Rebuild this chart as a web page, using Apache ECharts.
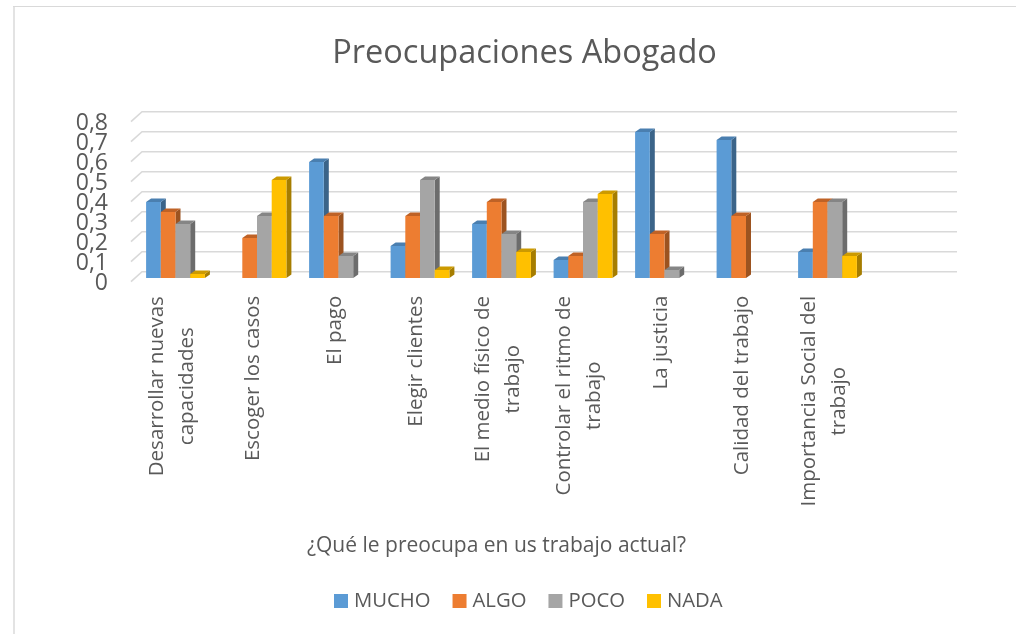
<!DOCTYPE html>
<html>
<head>
<meta charset="utf-8">
<title>Preocupaciones Abogado</title>
<style>
  html, body { margin: 0; padding: 0; background: #fff; }
  #main { width: 1016px; height: 634px; }
</style>
<script src="https://cdn.jsdelivr.net/npm/echarts@6/dist/echarts.min.js"></script>
</head>
<body>
<div id="main"></div>
<script>
var categories = [
  'Desarrollar nuevas\ncapacidades',
  'Escoger los casos',
  'El pago',
  'Elegir clientes',
  'El medio físico de\ntrabajo',
  'Controlar el ritmo de\ntrabajo',
  'La justicia',
  'Calidad del trabajo',
  'Importancia Social del\ntrabajo',
  ''
];
var mucho = [0.38, null, 0.58, 0.16, 0.27, 0.09, 0.73, 0.69, 0.13, null];
var algo = [0.33, 0.2, 0.31, 0.31, 0.38, 0.11, 0.22, 0.31, 0.38, null];
var poco = [0.27, 0.31, 0.11, 0.49, 0.22, 0.38, 0.04, null, 0.38, null];
var nada = [0.02, 0.49, null, 0.04, 0.13, 0.42, null, null, 0.11, null];
var yTicks = [0, 0.1, 0.2, 0.3, 0.4, 0.5, 0.6, 0.7, 0.8];
var yTickLabels = ['0', '0,1', '0,2', '0,3', '0,4', '0,5', '0,6', '0,7', '0,8'];

var seriesNames = ['MUCHO', 'ALGO', 'POCO', 'NADA'];
var seriesValues = [mucho, algo, poco, nada];
var frontColors = ['#5B9BD5', '#ED7D31', '#A5A5A5', '#FFC000'];
var topColors = ['#4A7FB0', '#BF6226', '#858585', '#CC9A00'];
var sideColors = ['#3B6489', '#9C5320', '#6C6C6C', '#A67D00'];

var fontName = '"Open Sans", sans-serif';
var textColor = '#595959';
var labelSize = 20.5;

// 3D look: how far the walls and the bars go back
var wallDx = 11, wallDy = -10;
var barDx = 5, barDy = -3.4;
var barInsetY = 3.7;
var barWidth = 14.7;
var barShift = 3.75;

// two line labels: each line gets the width of the longest one so they stay centered
var ctx = document.createElement('canvas').getContext('2d');
ctx.font = labelSize + 'px "Open Sans"';
var labelRich = {};
categories.forEach(function (c, i) {
  var lines = c.split('\n');
  if (lines.length > 1) {
    var w = Math.max.apply(null, lines.map(function (l) { return ctx.measureText(l).width; }));
    labelRich['c' + i] = { width: Math.ceil(w), align: 'center', lineHeight: 30, fontSize: labelSize, fontFamily: fontName, color: textColor };
  }
});

function renderWall(params, api) {
  var v = api.value(0);
  var band = api.size([1, 0])[0];
  var start = api.coord([0, v]);
  var x0 = start[0] - band / 2;
  var x1 = x0 + band * categories.length;
  return {
    type: 'polyline',
    shape: { points: [[x0, start[1]], [x0 + wallDx, start[1] + wallDy], [x1 + wallDx, start[1] + wallDy]] },
    style: { fill: null, stroke: '#D9D9D9', lineWidth: 1.6 }
  };
}

// the axis own labels drop some of these because 23px text overlaps at 20px spacing
function renderTickLabel(params, api) {
  var pos = api.coord([0, api.value(0)]);
  return {
    type: 'text',
    style: {
      text: yTickLabels[params.dataIndex],
      x: pos[0] - api.size([1, 0])[0] / 2 - 23,
      y: pos[1] + 2,
      align: 'right',
      verticalAlign: 'middle',
      fontFamily: fontName,
      fontSize: 23,
      fill: textColor
    }
  };
}

function barRenderer(s) {
  return function (params, api) {
    var v = api.value(1);
    if (isNaN(v)) return;
    var top = api.coord([api.value(0), v]);
    var base = api.coord([api.value(0), 0]);
    var x = top[0] + barShift + (s - 2) * barWidth;
    var yt = top[1] - barInsetY;
    var yb = base[1] - barInsetY;
    var xr = x + barWidth;
    return {
      type: 'group',
      children: [
        { type: 'polygon', shape: { points: [[xr, yt], [xr + barDx, yt + barDy], [xr + barDx, yb + barDy], [xr, yb]] }, style: { fill: sideColors[s] } },
        { type: 'polygon', shape: { points: [[x, yt], [x + barDx, yt + barDy], [xr + barDx, yt + barDy], [xr, yt]] }, style: { fill: topColors[s] } },
        { type: 'rect', shape: { x: x, y: yt, width: barWidth, height: yb - yt }, style: { fill: frontColors[s] } }
      ]
    };
  };
}

var tickData = yTicks.map(function (t) { return [t]; });
var series = [
  { type: 'custom', silent: true, z: 1, renderItem: renderWall, encode: { y: 0 }, data: tickData },
  { type: 'custom', silent: true, z: 1, renderItem: renderTickLabel, encode: { y: 0 }, data: tickData }
];
seriesNames.forEach(function (name, s) {
  series.push({
    name: name,
    type: 'custom',
    z: 2 + s,
    itemStyle: { color: frontColors[s] },
    renderItem: barRenderer(s),
    encode: { x: 0, y: 1 },
    data: seriesValues[s].map(function (v, i) { return [i, v]; })
  });
});

var option = {
  animation: false,
  backgroundColor: '#fff',
  title: [
    {
      text: 'Preocupaciones Abogado',
      left: 524.5,
      top: 37,
      padding: 0,
      textAlign: 'center',
      textStyle: { fontFamily: fontName, fontSize: 32.5, fontWeight: 'normal', color: textColor }
    },
    {
      text: '¿Qué le preocupa en us trabajo actual?',
      left: 496.5,
      top: 536,
      padding: 0,
      textAlign: 'center',
      textStyle: { fontFamily: fontName, fontSize: 21, fontWeight: 'normal', color: textColor }
    }
  ],
  legend: {
    left: 334,
    top: 591,
    padding: 0,
    icon: 'rect',
    itemWidth: 14,
    itemHeight: 14,
    itemGap: 22,
    data: seriesNames,
    textStyle: { fontFamily: fontName, fontSize: 20.3, color: textColor, padding: [0, 0, 0, 1] }
  },
  grid: { left: 131, top: 121.7, width: 815, height: 160 },
  xAxis: {
    type: 'category',
    data: categories,
    axisLine: { show: false },
    axisTick: { show: false },
    axisLabel: {
      interval: 0,
      rotate: 90,
      margin: 14,
      fontFamily: fontName,
      fontSize: labelSize,
      color: textColor,
      rich: labelRich,
      formatter: function (value, index) {
        if (value.indexOf('\n') < 0) return value;
        return value.split('\n').map(function (l) { return '{c' + index + '|' + l + '}'; }).join('\n');
      }
    }
  },
  yAxis: {
    type: 'value',
    min: 0,
    max: 0.8,
    interval: 0.1,
    axisLine: { show: false },
    axisTick: { show: false },
    splitLine: { show: false },
    axisLabel: { show: false }
  },
  // the outer frame, only left and top show in the picture
  graphic: [
    { type: 'rect', silent: true, shape: { x: 13, y: 6, width: 2, height: 628 }, style: { fill: '#E3E3E3' } },
    { type: 'rect', silent: true, shape: { x: 13, y: 6, width: 1003, height: 1 }, style: { fill: '#D9D9D9' } }
  ],
  series: series
};

var myChart = echarts.init(document.getElementById('main'));
myChart.setOption(option);
</script>
</body>
</html>
